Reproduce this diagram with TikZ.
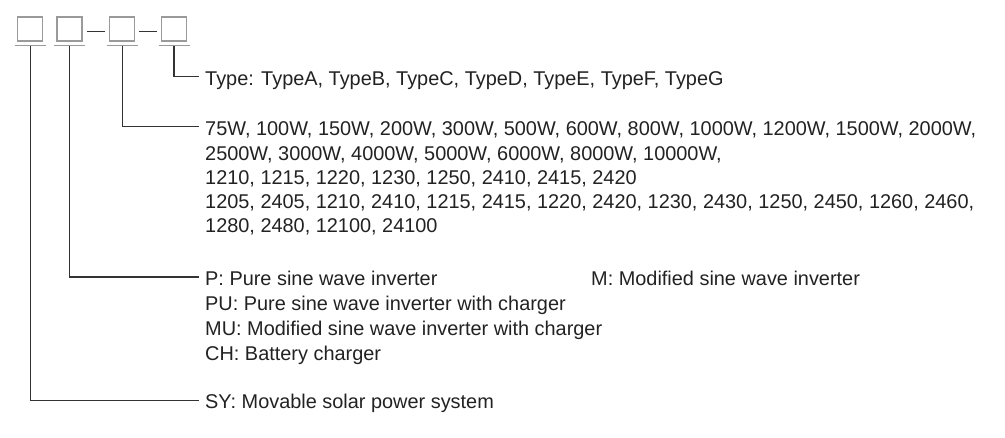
\documentclass[tikz,border=0pt]{standalone}
\usepackage{fontspec}
\setmainfont{Liberation Sans}
\definecolor{boxgray}{HTML}{9A9A9A}
\definecolor{leadgray}{HTML}{333333}
\definecolor{textgray}{HTML}{222222}
\begin{document}
\begin{tikzpicture}[x=1pt,y=-1pt,
    codebox/.style={draw=boxgray,line width=1.5pt,minimum width=25pt,minimum height=24pt,inner sep=0pt},
    underline/.style={draw=boxgray,line width=1.5pt},
    leader/.style={draw=leadgray,line width=1.2pt},
    txt/.style={anchor=base west,inner sep=0pt,text=textgray,align=left,font=\fontsize{19.9pt}{24.4pt}\selectfont}]
    
    \useasboundingbox (0,0) rectangle (1005,438);
    
    %Cajas
    \foreach \n/\x in {1/30.2,2/69.7,3/122.2,4/174}{
        \node[codebox] (b\n) at (\x,29) {};
        \coordinate (u\n) at (\x,45.7);
        \draw[underline] ([xshift=-15.5pt]u\n) -- ([xshift=15.5pt]u\n);
    }
    \draw[leader,shorten <=4pt,shorten >=3.5pt] ([yshift=-2.5pt]b2.east) -- ([yshift=-2.5pt]b3.west);
    \draw[leader,shorten <=4pt,shorten >=3.5pt] ([yshift=-2.5pt]b3.east) -- ([yshift=-2.5pt]b4.west);
    
    %Textos (base = ultima linea)
    \node[txt] (tType) at (205,86) {Type: TypeA, TypeB, TypeC, TypeD, TypeE, TypeF, TypeG};
    \node[txt,font=\fontsize{19.9pt}{24.25pt}\selectfont] (tWatt) at (205,233) {75W, 100W, 150W, 200W, 300W, 500W, 600W, 800W, 1000W, 1200W, 1500W, 2000W,\\
        2500W, 3000W, 4000W, 5000W, 6000W, 8000W, 10000W,\\
        1210, 1215, 1220, 1230, 1250, 2410, 2415, 2420\\
        1205, 2405, 1210, 2410, 1215, 2415, 1220, 2420, 1230, 2430, 1250, 2450, 1260, 2460,\\
        1280, 2480, 12100, 24100};
    \node[txt,font=\fontsize{19.9pt}{24.8pt}\selectfont] (tKind) at (205,360.1) {P: Pure sine wave inverter\\
        PU: Pure sine wave inverter with charger\\
        MU: Modified sine wave inverter with charger\\
        CH: Battery charger};
    \node[txt] (tMod) at (591,285.7) {M: Modified sine wave inverter};
    \node[txt] (tSys) at (205,408.3) {SY: Movable solar power system};
    
    %Lineas
    \coordinate (cType) at ([xshift=-6pt,yshift=9.3pt]tType.base west);
    \coordinate (cWatt) at ([xshift=-6pt,yshift=106.3pt]tWatt.base west);
    \coordinate (cKind) at ([xshift=-6pt,yshift=83.1pt]tKind.base west);
    \coordinate (cSys) at ([xshift=-6pt,yshift=8pt]tSys.base west);
    \draw[leader] (u4) |- (cType);
    \draw[leader] (u3) |- (cWatt);
    \draw[leader] (u2) |- (cKind);
    \draw[leader] (u1) |- (cSys);
    
\end{tikzpicture}
\end{document}
